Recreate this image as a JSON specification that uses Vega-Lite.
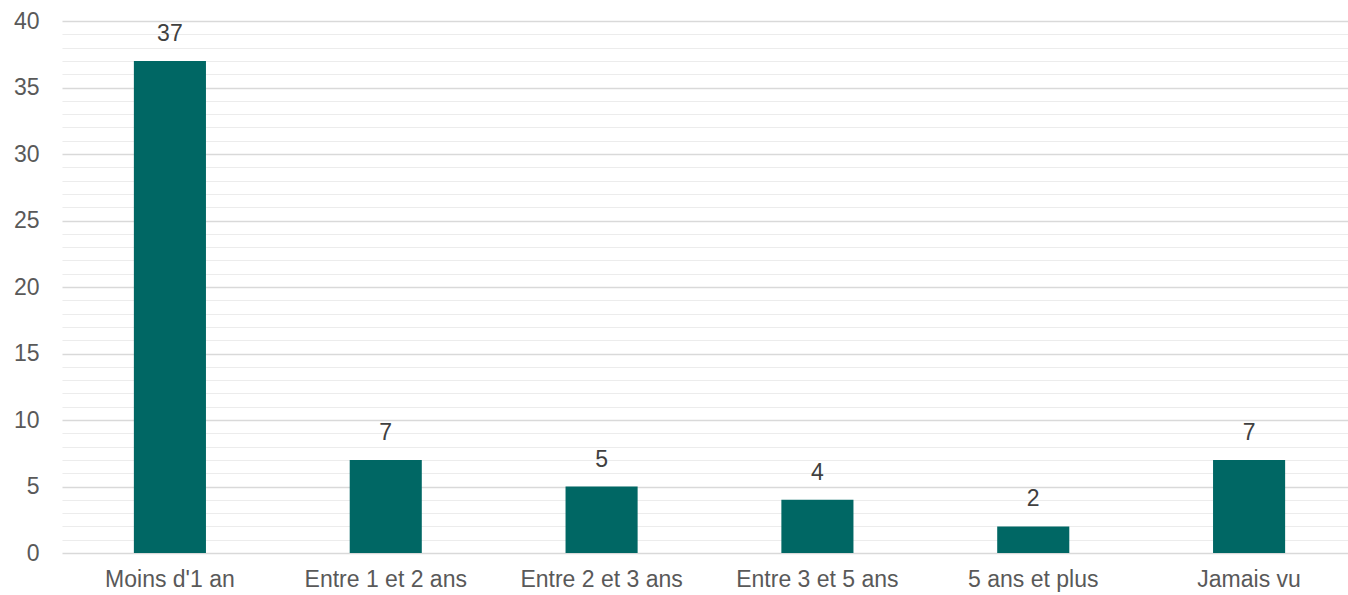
{
  "$schema": "https://vega.github.io/schema/vega-lite/v6.json",
  "width": 1295,
  "height": 532,
  "autosize": {"type": "none"},
  "padding": {"left": 62, "top": 21, "right": 0, "bottom": 42},
  "background": "white",
  "config": {"view": {"stroke": null}, "font": "Liberation Sans"},
  "data": {"values": [
    {"cat": "Moins d'1 an", "n": 37},
    {"cat": "Entre 1 et 2 ans", "n": 7},
    {"cat": "Entre 2 et 3 ans", "n": 5},
    {"cat": "Entre 3 et 5 ans", "n": 4},
    {"cat": "5 ans et plus", "n": 2},
    {"cat": "Jamais vu", "n": 7}
  ]},
  "encoding": {
    "x": {"field": "cat", "type": "nominal", "sort": null,
      "scale": {"paddingInner": 0.666, "paddingOuter": 0.333},
      "axis": {"title": null, "labelAngle": 0, "labelFontSize": 23, "labelColor": "#595959", "labelPadding": 15, "ticks": false, "domain": false, "labelFont": "Liberation Sans"}},
    "y": {"field": "n", "type": "quantitative",
      "scale": {"domain": [0, 40], "nice": false},
      "axis": {"title": null,
        "values": [0,1,2,3,4,5,6,7,8,9,10,11,12,13,14,15,16,17,18,19,20,21,22,23,24,25,26,27,28,29,30,31,32,33,34,35,36,37,38,39,40],
        "labelExpr": "datum.value % 5 === 0 ? datum.label : ''",
        "labelFontSize": 23, "labelColor": "#595959", "labelPadding": 23, "ticks": false, "domain": false,
        "grid": true,
        "gridColor": {"condition": {"test": "datum.value % 5 === 0", "value": "#d9d9d9"}, "value": "#ececec"},
        "gridWidth": {"condition": {"test": "datum.value % 5 === 0", "value": 1.5}, "value": 1.2},
        "labelFont": "Liberation Sans"}}
  },
  "layer": [
    {"mark": {"type": "bar", "color": "#006764"}},
    {"mark": {"type": "text", "baseline": "alphabetic", "dy": -20, "fontSize": 23, "color": "#404040", "font": "Liberation Sans"},
     "encoding": {"text": {"field": "n", "type": "quantitative"}}}
  ]
}
